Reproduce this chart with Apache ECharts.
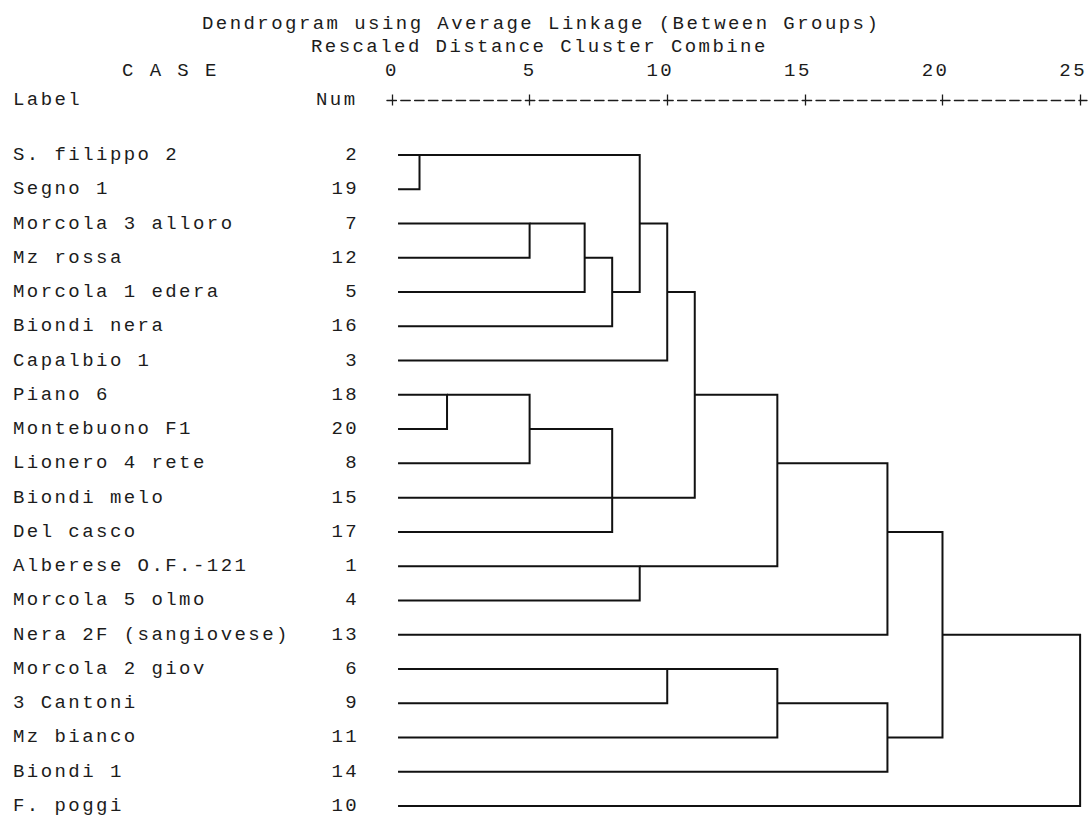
<!DOCTYPE html>
<html>
<head>
<meta charset="utf-8">
<script src="https://cdn.jsdelivr.net/npm/echarts@6/dist/echarts.min.js"></script>
<style>
  html, body { margin: 0; padding: 0; background: #ffffff; }
  /* typewriter-style spacing for the monospace listing */
  #chart { width: 1090px; height: 818px; letter-spacing: 2.44px; }
</style>
</head>
<body>
<div id="chart"></div>
<script>
// Cases in dendrogram order (top to bottom)
const caseLabels = [
  'S. filippo 2', 'Segno 1', 'Morcola 3 alloro', 'Mz rossa', 'Morcola 1 edera',
  'Biondi nera', 'Capalbio 1', 'Piano 6', 'Montebuono F1', 'Lionero 4 rete',
  'Biondi melo', 'Del casco', 'Alberese O.F.-121', 'Morcola 5 olmo',
  'Nera 2F (sangiovese)', 'Morcola 2 giov', '3 Cantoni', 'Mz bianco',
  'Biondi 1', 'F. poggi'
];
const caseNums = [2, 19, 7, 12, 5, 16, 3, 18, 20, 8, 15, 17, 1, 4, 13, 6, 9, 11, 14, 10];

// Rescaled distance scale
const scaleTicks = [0, 5, 10, 15, 20, 25];

// Agglomeration steps: rows joined, rescaled distance, row that carries the new cluster
const mergeRows = [
  [0, 1], [7, 8], [2, 3], [7, 9], [2, 4], [3, 5], [8, 10, 11], [0, 4], [12, 13],
  [15, 16], [2, 6], [4, 10], [7, 12], [15, 17], [9, 14], [16, 18], [11, 17], [14, 19]
];
const mergeDist = [1, 2, 5, 5, 7, 8, 8, 9, 9, 10, 10, 11, 14, 14, 18, 18, 20, 25];
const mergeInto = [0, 7, 2, 8, 3, 4, 10, 2, 12, 15, 4, 7, 9, 16, 11, 17, 14, null];

const FONT = "'Liberation Mono', 'DejaVu Sans Mono', monospace";
const FONT_SIZE = 19;
const INK = '#1c1c1c';
const LEAF_START = 0.22;

// Turn the agglomeration steps into bracket polylines
const branchStart = caseLabels.map(() => LEAF_START);
const treeLines = [];
mergeRows.forEach((rows, k) => {
  const d = mergeDist[k];
  const sorted = rows.slice().sort((a, b) => a - b);
  const first = sorted[0];
  const last = sorted[sorted.length - 1];
  treeLines.push({
    coords: [[branchStart[first], first], [d, first], [d, last], [branchStart[last], last]]
  });
  sorted.slice(1, -1).forEach(r => {
    treeLines.push({ coords: [[branchStart[r], r], [d, r]] });
  });
  if (mergeInto[k] !== null) branchStart[mergeInto[k]] = d;
});

const chart = echarts.init(document.getElementById('chart'), null, { renderer: 'svg' });

const textStyle = (t, x, y, align) => ({
  type: 'text',
  x: x, y: y,
  silent: true,
  style: {
    text: t,
    fill: INK,
    font: FONT_SIZE + 'px ' + FONT,
    textAlign: align || 'left',
    textVerticalAlign: 'middle'
  }
});

const hiddenParts = {
  axisLine: { show: false, onZero: false },
  axisTick: { show: false },
  splitLine: { show: false }
};

chart.setOption({
  animation: false,
  backgroundColor: '#ffffff',
  graphic: [
    textStyle('Dendrogram using Average Linkage (Between Groups)', 202, 24),
    textStyle('Rescaled Distance Cluster Combine', 311, 47),
    textStyle('C A S E', 122, 71),
    textStyle('Label', 13, 100),
    textStyle('Num', 316, 100)
  ],
  grid: { left: 385.1, right: 0, top: 155, bottom: 12, containLabel: false },
  xAxis: [
    {
      // "+---------+" scale line with upward half of each cross
      type: 'value', min: -0.25, max: 25.25, position: 'top', offset: 55,
      axisLine: { show: true, onZero: false,
        lineStyle: { color: INK, width: 1.3, type: [9.5, 4.34], dashOffset: 11.74 } },
      axisTick: { show: true, customValues: scaleTicks, length: 5.5,
        lineStyle: { color: INK, width: 1.3 } },
      axisLabel: { show: false },
      splitLine: { show: false }
    },
    {
      // scale numbers, last digit standing over the cross
      type: 'value', min: -0.5, max: 25, position: 'top', offset: 55,
      ...hiddenParts,
      axisLabel: { show: true, customValues: scaleTicks, align: 'right',
        verticalAlign: 'middle', margin: 29,
        fontFamily: FONT, fontSize: FONT_SIZE, color: INK }
    },
    {
      // downward half of each cross
      type: 'value', min: -0.25, max: 25.25, position: 'top', offset: 55,
      axisLine: { show: false, onZero: false },
      axisTick: { show: true, inside: true, customValues: scaleTicks, length: 5.5,
        lineStyle: { color: INK, width: 1.3 } },
      axisLabel: { show: false },
      splitLine: { show: false }
    }
  ],
  yAxis: [
    {
      type: 'value', min: 0, max: caseLabels.length - 1, interval: 1, inverse: true,
      position: 'left',
      ...hiddenParts,
      axisLabel: { show: true, align: 'left', margin: 372.1,
        formatter: v => caseLabels[v] ?? '',
        fontFamily: FONT, fontSize: FONT_SIZE, color: INK }
    },
    {
      type: 'value', min: 0, max: caseLabels.length - 1, interval: 1, inverse: true,
      position: 'left',
      ...hiddenParts,
      axisLabel: { show: true, align: 'right', margin: 26,
        formatter: v => (caseNums[v] ?? '') + '',
        fontFamily: FONT, fontSize: FONT_SIZE, color: INK }
    }
  ],
  series: [
    {
      type: 'lines',
      coordinateSystem: 'cartesian2d',
      xAxisIndex: 0,
      yAxisIndex: 0,
      polyline: true,
      silent: true,
      lineStyle: { color: '#111111', width: 2, opacity: 1 },
      data: treeLines
    }
  ]
});
</script>
</body>
</html>
